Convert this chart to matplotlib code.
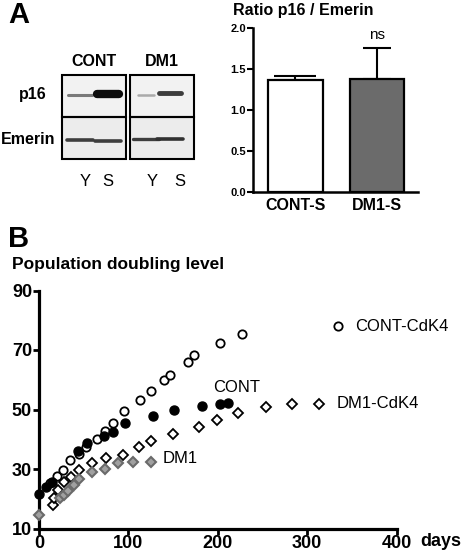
import matplotlib
matplotlib.use("Agg")
import matplotlib.pyplot as plt
from matplotlib.patches import Rectangle
import numpy as np

plt.rcParams['font.family'] = ['Liberation Sans', 'DejaVu Sans']

# ---------------- Panel A: bar chart data ----------------
bar_cats = ["CONT-S", "DM1-S"]
bar_vals = [1.37, 1.38]
bar_errs = [0.05, 0.38]
bar_colors = ["white", "#6b6b6b"]
bar_caps = [15, 10]
bar_yticks = [0.0, 0.5, 1.0, 1.5, 2.0]

# ---------------- Panel A: blot (schematic) ----------------
blot_groups = ["CONT", "DM1"]
blot_lanes = ["Y", "S", "Y", "S"]
p16_intensity = [0.55, 1.0, 0.35, 0.8]
p16_thickness = [2.2, 6.0, 1.8, 3.5]
emerin_intensity = [0.8, 0.8, 0.8, 0.85]
emerin_thickness = [2.6, 2.6, 2.4, 2.6]

# ---------------- Panel B: population doubling ----------------
cont_days = [0, 8, 14, 44, 54, 73, 83, 96, 127, 151, 182, 203, 212]
cont_pdl = [21.7, 24.0, 25.5, 35.9, 38.9, 41.0, 42.6, 45.5, 47.8, 49.9, 51.3, 51.9, 52.1]

cdk4_days = [12, 20, 27, 35, 45, 53, 65, 74, 83, 95, 113, 125, 140, 147, 167, 173, 203, 227, 334]
cdk4_pdl = [25.4, 27.6, 29.7, 33.0, 35.2, 37.5, 40.0, 42.8, 45.6, 49.4, 53.3, 56.1, 59.9, 61.6,
            65.8, 68.4, 72.3, 75.3, 78.0]

dm1cdk4_days = [16, 17, 21, 28, 36, 45, 59, 75, 94, 112, 125, 150, 179, 199, 223, 254, 283, 313]
dm1cdk4_pdl = [17.8, 20.3, 23.0, 25.7, 27.4, 29.7, 31.9, 33.6, 34.7, 37.4, 39.4, 41.9, 44.2,
               46.6, 48.7, 50.9, 52.0, 52.0]

dm1_days = [0, 23, 28, 33, 39, 45, 59, 74, 88, 105, 125]
dm1_pdl = [14.7, 20.1, 21.4, 22.7, 24.5, 26.7, 28.9, 30.0, 32.0, 32.4, 32.4]

x_ticks = [0, 100, 200, 300, 400]
y_ticks = [10, 30, 50, 70, 90]

W, H = 475, 558
fig = plt.figure(figsize=(W / 100, H / 100), dpi=100)

# canvas in pixel coordinates for labels and blot
canvas = fig.add_axes([0, 0, 1, 1])
canvas.set_xlim(0, W)
canvas.set_ylim(H, 0)
canvas.axis('off')

# Panel letters
canvas.text(8, 15, "A", fontsize=21, fontweight='bold', ha='left', va='center')
canvas.text(8, 239, "B", fontsize=21, fontweight='bold', ha='left', va='center')

# ---- blot ----
box_x = [62, 130]
box_w = 64
top_y, mid_y, bot_y = 75, 117, 159
lane_x = [80, 108, 146, 170]
lane_half = [12, 11, 8, 11]
p16_y = [94.5, 93.5, 94.5, 92.5]
em_y = [139.5, 140.8, 139.3, 139.0]
for gi, g in enumerate(blot_groups):
    x0 = box_x[gi]
    canvas.add_patch(Rectangle((x0, top_y), box_w, mid_y - top_y, facecolor='#f2f2f2',
                               edgecolor='none', zorder=1))
    canvas.add_patch(Rectangle((x0, mid_y), box_w, bot_y - mid_y, facecolor='#ececec',
                               edgecolor='none', zorder=1))
    canvas.text(x0 + box_w / 2, 61, g, fontsize=11.5, fontweight='bold', ha='center', va='center')
for li, lane in enumerate(blot_lanes):
    c = str(1 - p16_intensity[li] * 0.95)
    canvas.plot([lane_x[li] - lane_half[li], lane_x[li] + lane_half[li]], [p16_y[li]] * 2,
                color=c, lw=p16_thickness[li], solid_capstyle='round', zorder=2)
    ce = str(1 - emerin_intensity[li] * 0.95)
    canvas.plot([lane_x[li] - 13, lane_x[li] + 13], [em_y[li]] * 2,
                color=ce, lw=emerin_thickness[li], solid_capstyle='round', zorder=2)
    canvas.text([85, 108, 152, 180][li], 182, lane, fontsize=12, ha='center', va='center')
for gi in range(2):
    x0 = box_x[gi]
    canvas.add_patch(Rectangle((x0, top_y), box_w, mid_y - top_y, facecolor='none',
                               edgecolor='black', lw=1.5, zorder=3))
    canvas.add_patch(Rectangle((x0, mid_y), box_w, bot_y - mid_y, facecolor='none',
                               edgecolor='black', lw=1.5, zorder=3))
canvas.text(47, 94, "p16", fontsize=11.5, fontweight='bold', ha='right', va='center')
canvas.text(55, 140, "Emerin", fontsize=11.5, fontweight='bold', ha='right', va='center')

# ---- bar chart ----
axb = fig.add_axes([253 / W, (H - 192) / H, (418 - 253) / W, (192 - 28) / H])
xpos = np.arange(len(bar_cats))
axb.bar(xpos, bar_vals, width=0.667, color=bar_colors, edgecolor='black', linewidth=1.6, zorder=2)
for i in range(len(bar_cats)):
    axb.errorbar(xpos[i], bar_vals[i], yerr=[[0], [bar_errs[i]]], fmt='none', ecolor='black',
                 elinewidth=1.5, capsize=bar_caps[i], capthick=1.5, zorder=1)
axb.set_xlim(-0.52, 1.5)
axb.set_ylim(0, 2.0)
axb.set_yticks(bar_yticks)
axb.set_yticklabels([f"{v:.1f}" for v in bar_yticks], fontsize=8, fontweight='bold')
axb.set_xticks(xpos)
axb.set_xticklabels(bar_cats, fontsize=11.5, fontweight='bold')
axb.tick_params(axis='x', length=0, pad=4)
axb.tick_params(axis='y', length=4, width=1.5, pad=1, direction='out')
for s in ['top', 'right']:
    axb.spines[s].set_visible(False)
for s in ['left', 'bottom']:
    axb.spines[s].set_linewidth(1.8)
axb.text(1, bar_vals[1] + bar_errs[1] + 0.16, "ns", fontsize=11, ha='center', va='center')
canvas.text(233, 11, "Ratio p16 / Emerin", fontsize=11.5, fontweight='bold', ha='left', va='center')

# ---- Panel B scatter ----
axs = fig.add_axes([39 / W, (H - 528.5) / H, (396.5 - 39) / W, (528.5 - 290.5) / H])
axs.plot(cdk4_days, cdk4_pdl, 'o', ms=6, mfc='white', mec='black', mew=1.3, clip_on=False, zorder=3)
axs.plot(dm1cdk4_days, dm1cdk4_pdl, 'D', ms=5, mfc='white', mec='black', mew=1.3, clip_on=False, zorder=3)
axs.plot(dm1_days, dm1_pdl, 'D', ms=5.5, mfc='#a0a0a0', mec='#6a6a6a', mew=1.5, clip_on=False, zorder=3)
axs.plot(cont_days, cont_pdl, 'o', ms=6.5, mfc='black', mec='black', clip_on=False, zorder=4)
axs.set_xlim(0, 400)
axs.set_ylim(10, 90)
axs.set_xticks(x_ticks)
axs.set_yticks(y_ticks)
axs.set_xticklabels([str(v) for v in x_ticks], fontsize=13, fontweight='bold')
axs.set_yticklabels([str(v) for v in y_ticks], fontsize=13, fontweight='bold')
axs.tick_params(length=4, width=2, pad=1, direction='out')
for s in ['top', 'right']:
    axs.spines[s].set_visible(False)
for s in ['left', 'bottom']:
    axs.spines[s].set_linewidth(2.3)

axs.text(334 + 20, 78, "CONT-CdK4", fontsize=12, ha='left', va='center')
axs.text(195, 57.5, "CONT", fontsize=12, ha='left', va='center')
axs.text(313 + 20, 52, "DM1-CdK4", fontsize=12, ha='left', va='center')
axs.text(138, 33.5, "DM1", fontsize=12, ha='left', va='center')
canvas.text(420, 541, "days", fontsize=13, fontweight='bold', ha='left', va='center')
canvas.text(12, 265, "Population doubling level", fontsize=12.5, fontweight='bold', ha='left', va='center')

fig.savefig("out.png", dpi=100)
